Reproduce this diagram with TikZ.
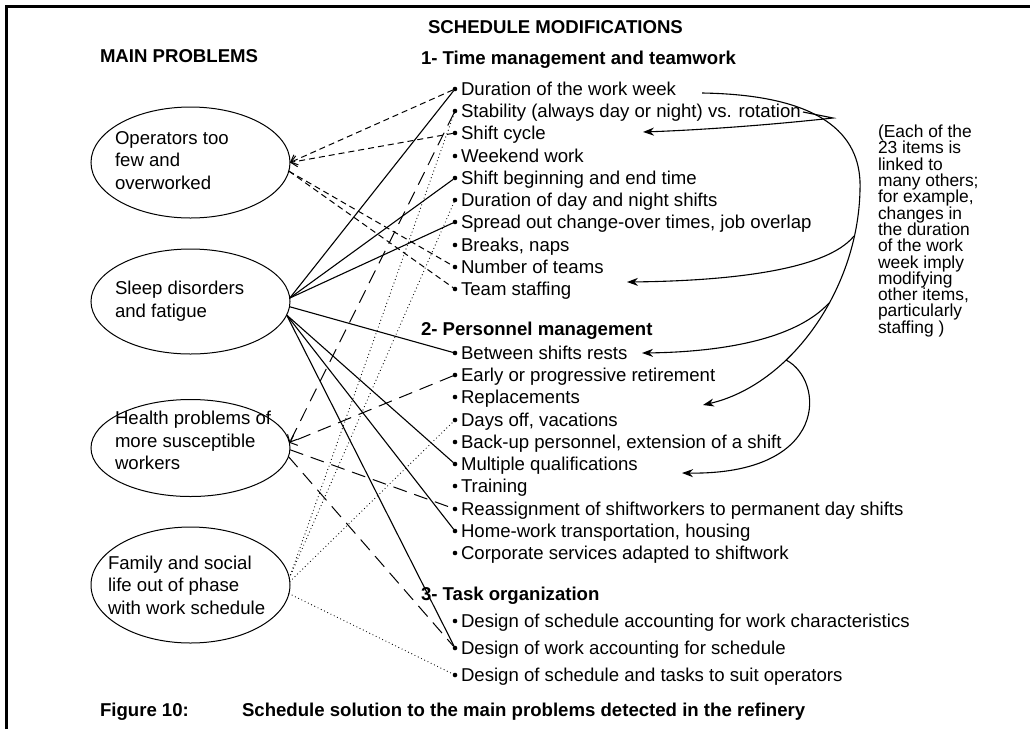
\documentclass[tikz,border=0pt]{standalone}
\usepackage{fontspec}
\setmainfont{Liberation Sans}
\usetikzlibrary{shapes.geometric,arrows.meta,calc}

% one schedule item: bullet node #1 at height #2, its text node #1t
\newcommand\schitem[3]{%
  \node[bul] (#1) at (455,#2) {};
  \node[itxt] (#1t) at (461,{#2+6.5}) {#3};}

\begin{document}
\begin{tikzpicture}[x=1pt,y=-1pt,
  every node/.style={inner sep=0pt,outer sep=0pt},
  itxt/.style={anchor=base west,font=\fontsize{18.6}{22.5}\selectfont},
  hd/.style={anchor=base west,font=\fontsize{18.6}{22.5}\selectfont\bfseries},
  etxt/.style={anchor=west,align=left,font=\fontsize{18.6}{22.5}\selectfont},
  note/.style={anchor=north west,align=left,font=\fontsize{17.4}{16.3}\selectfont},
  prob/.style={ellipse,draw,line width=1pt,minimum width=199pt,minimum height=#1},
  bul/.style={circle,fill,minimum size=4.6pt},
  sol/.style={line width=1.1pt},
  sdash/.style={line width=1pt,dash pattern=on 6pt off 4pt},
  ldash/.style={line width=1pt,dash pattern=on 14pt off 8pt},
  dots/.style={line width=1.2pt,line cap=round,dash pattern=on 0pt off 3.6pt},
  tohead/.style={-{Straight Barb[length=6pt,width=11pt,line cap=butt]}},
  curv/.style={line width=1.1pt,-{Stealth[length=11pt,width=8pt]}}]

\useasboundingbox (0,0) rectangle (1030,729);

% frame: left and top rules
\draw[line width=2.7pt] (6.3,729) -- (6.3,6.3) -- (1030,6.3);

% column headings
\node[hd] (hmod) at (428,33.5) {SCHEDULE MODIFICATIONS};
\node[hd] (hprob) at (100,62.5) {MAIN PROBLEMS};

% problems
\node[prob=111pt] (e1) at (190.5,162.5) {};
\node[etxt] (e1t) at (115,160.5) {Operators too\\few and\\overworked};
\node[prob=105pt] (e2) at (190.5,301.5) {};
\node[etxt] (e2t) at (115,301) {Sleep disorders\\and fatigue};
\node[prob=97pt] (e3) at (190.5,448) {};
\node[etxt] (e3t) at (115,440.5) {Health problems of\\more susceptible\\workers};
\node[prob=116pt] (e4) at (190.5,585) {};
\node[etxt] (e4t) at (108,585) {Family and social\\life out of phase\\with work schedule};

% 1 - time management and teamwork
\node[hd] (g1) at (421,64.5) {1- Time management and teamwork};
\schitem{b1}{89}{Duration of the work week}
\schitem{b2}{111}{Stability (always day or night) vs. rotation}
\schitem{b3}{133}{Shift cycle}
\schitem{b4}{156}{Weekend work}
\schitem{b5}{178}{Shift beginning and end time}
\schitem{b6}{200}{Duration of day and night shifts}
\schitem{b7}{222}{Spread out change-over times, job overlap}
\schitem{b8}{245}{Breaks, naps}
\schitem{b9}{267}{Number of teams}
\schitem{b10}{289}{Team staffing}

% 2 - personnel management
\node[hd] (g2) at (421,335.5) {2- Personnel management};
\schitem{c1}{353}{Between shifts rests}
\schitem{c2}{375}{Early or progressive retirement}
\schitem{c3}{397}{Replacements}
\schitem{c4}{420}{Days off, vacations}
\schitem{c5}{442}{Back-up personnel, extension of a shift}
\schitem{c6}{464}{Multiple qualifications}
\schitem{c7}{486}{Training}
\schitem{c8}{509}{Reassignment of shiftworkers to permanent day shifts}
\schitem{c9}{531}{Home-work transportation, housing}
\schitem{c10}{553}{Corporate services adapted to shiftwork}

% 3 - task organization
\node[hd] (g3) at (421,600.5) {3- Task organization};
\schitem{d1}{621}{Design of schedule accounting for work characteristics}
\schitem{d2}{648}{Design of work accounting for schedule}
\schitem{d3}{675}{Design of schedule and tasks to suit operators}

% operators too few: short dashes
\draw[sdash,tohead] (b1) -- (e1.east);
\draw[sdash,tohead] (b3) -- (e1.east);
\draw[sdash] (e1.-5) -- (b9);
\draw[sdash] (e1.-5) -- (b10);

% sleep disorders: solid
\draw[sol] (e2.2) -- (b1);
\draw[sol] (e2.2) -- (b5);
\draw[sol] (e2.2) -- (b7);
\draw[sol] (e2.-3) -- (c1);
\draw[sol] (e2.-8) -- (c6);
\draw[sol] (e2.-8) -- (c9);
\draw[sol] (e2.-8) -- (d2);

% health problems: long dashes
\draw[ldash,tohead] (b2) -- (e3.3);
\draw[ldash,tohead] (c2) -- (e3.3);
\draw[ldash] (e3.-1) -- (c8);
\draw[ldash] (e3.-5) -- (d2);

% family and social life: dots
\draw[dots] (e4.4) -- (b2);
\draw[dots] (e4.4) -- (b6);
\draw[dots] (e4.2) -- (c4);
\draw[dots] (e4.-5) -- (d3);

% links between the items
\coordinate (t0) at (702,93);
\coordinate (tm) at (860,190);
\coordinate (jA) at (803,112);
\coordinate (kA) at (833,118);
\coordinate (jB) at (854,236);
\coordinate (jC) at (829,303);
\coordinate (jD) at (786,360);
\coordinate (aRep) at (703,405);
\coordinate (aCyc) at (643,132);
\coordinate (aTeam) at (627,282);
\coordinate (aRest) at (642,353);
\coordinate (aQual) at (682,473);
\draw[curv] (t0) .. controls (830,95) and (862,140) .. (tm)
  .. controls (858,290) and (790,385) .. (aRep);
\draw[curv] (jA) -- (kA) .. controls (770,125) and (700,130) .. (aCyc);
\draw[curv] (jB) .. controls (825,272) and (720,281) .. (aTeam);
\draw[curv] (jC) .. controls (795,340) and (720,352) .. (aRest);
\draw[curv] (jD) .. controls (825,380) and (830,475) .. (aQual);

% side note
\node[note] (nt) at (878,125) {(Each of the\\23 items is\\linked to\\many others;\\for example,\\changes in\\the duration\\of the work\\week imply\\modifying\\other items,\\particularly\\staffing )};

% caption
\node[hd] (fig) at (100,716.5) {Figure 10:};
\node[hd] (cap) at (242,716.5) {Schedule solution to the main problems detected in the refinery};
\end{tikzpicture}
\end{document}
